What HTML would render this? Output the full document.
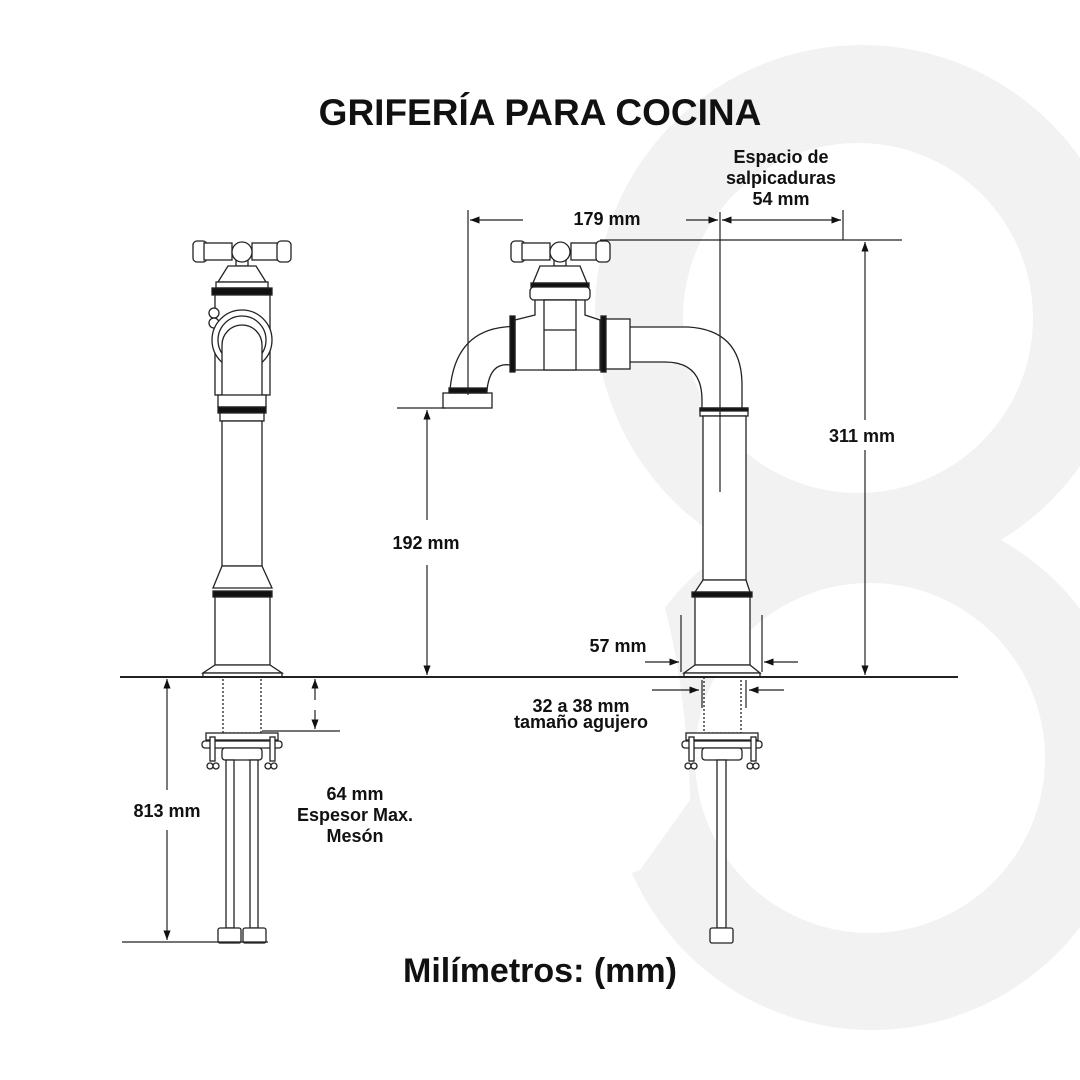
<!DOCTYPE html>
<html><head><meta charset="utf-8"><style>
html,body{margin:0;padding:0;background:#fff}
svg{display:block}
text{font-family:"Liberation Sans",sans-serif;font-weight:bold;fill:#111}
</style></head><body>
<svg width="1080" height="1080" viewBox="0 0 1080 1080" xmlns="http://www.w3.org/2000/svg">
<defs>
<marker id="a" markerWidth="8" markerHeight="6" refX="8" refY="3" orient="auto"><path d="M0,0 L8,3 L0,6z" fill="#111"/></marker>
</defs>
<g fill="#f2f2f2">
<circle cx="862" cy="312" r="267"/>
<circle cx="872" cy="768" r="262"/>
</g>
<circle cx="858" cy="318" r="175" fill="#fff"/>
<circle cx="870" cy="758" r="175" fill="#fff"/>
<path d="M560,560 L655,578 C680,640 690,760 690,800 L640,870 L560,900z" fill="#fff"/>

<text x="540" y="125" font-size="37" text-anchor="middle">GRIFERÍA PARA COCINA</text>

<g fill="#fff" stroke="#222" stroke-width="1.3">
<rect x="193" y="241" width="14" height="21" rx="4"/>
<rect x="204" y="243" width="28" height="17"/>
<rect x="252" y="243" width="28" height="17"/>
<rect x="277" y="241" width="14" height="21" rx="4"/>
<rect x="236" y="260" width="12" height="6"/>
<circle cx="242" cy="252" r="10"/>
<path d="M228,266 L256,266 L266,282 L218,282z"/>
<rect x="216" y="282" width="52" height="6"/>
<rect x="212" y="288" width="60" height="7" fill="#111"/>
<rect x="215" y="295" width="55" height="100"/>
<circle cx="214" cy="313" r="5"/><circle cx="214" cy="323" r="5"/>
<circle cx="242" cy="340" r="30"/>
<circle cx="242" cy="340" r="24"/>
<path d="M222,395 L222,345 A20,20 0 0 1 262,345 L262,395"/>
<rect x="218" y="395" width="48" height="12"/>
<rect x="218" y="407" width="48" height="6" fill="#111"/>
<rect x="220" y="413" width="44" height="8"/>
<rect x="222" y="421" width="40" height="145"/>
<path d="M222,566 L262,566 L272,588 L213,588z"/>
<rect x="213" y="591" width="59" height="6" fill="#111"/>
<rect x="215" y="597" width="55" height="68"/>
<path d="M215,665 L270,665 L282,673 L203,673z"/>
<rect x="203" y="673" width="79" height="4"/>
<rect x="223" y="677" width="38" height="56" stroke-dasharray="2,2" fill="none"/>
<rect x="206" y="733" width="72" height="7"/>
<rect x="202" y="741" width="80" height="7" rx="3"/>
<rect x="210" y="737" width="5" height="24"/><rect x="270" y="737" width="5" height="24"/>
<circle cx="210" cy="766" r="3"/><circle cx="216" cy="766" r="3"/>
<circle cx="268" cy="766" r="3"/><circle cx="274" cy="766" r="3"/>
<rect x="222" y="748" width="40" height="12" rx="3"/>
<rect x="226" y="760" width="8" height="168"/><rect x="250" y="760" width="8" height="168"/>
<rect x="218" y="928" width="23" height="15" rx="2"/>
<rect x="243" y="928" width="23" height="15" rx="2"/>

<rect x="511" y="241" width="14" height="21" rx="4"/>
<rect x="522" y="243" width="28" height="17"/>
<rect x="571" y="243" width="28" height="17"/>
<rect x="596" y="241" width="14" height="21" rx="4"/>
<rect x="554" y="260" width="12" height="6"/>
<circle cx="560" cy="252" r="10"/>
<path d="M540,266 L580,266 L587,283 L533,283z"/>
<rect x="531" y="283" width="58" height="4" fill="#111"/>
<rect x="530" y="287" width="60" height="13" rx="4"/>
<path d="M628,327 L688,327 Q742,330 742,385 L742,410 L702,410 L702,400 Q702,362 665,362 L628,362z"/>
<path d="M515,326 L505,327 Q455,332 450,390 L487,390 Q490,362 510,365z"/>
<rect x="443" y="393" width="49" height="15"/>
<rect x="449" y="388" width="38" height="5" fill="#111"/>
<path d="M535,300 L585,300 L585,315 L600,320 L600,370 L515,370 L515,320 L535,315z"/>
<rect x="544" y="300" width="32" height="70"/>
<line x1="544" y1="330" x2="576" y2="330"/>
<rect x="510" y="316" width="5" height="56" fill="#111"/>
<rect x="601" y="316" width="5" height="56" fill="#111"/>
<rect x="606" y="319" width="24" height="50"/>
<rect x="700" y="408" width="48" height="8"/>
<rect x="700" y="408" width="48" height="3" fill="#111"/>
<rect x="703" y="416" width="43" height="164"/>
<path d="M703,580 L746,580 L750,592 L695,592z"/>
<rect x="692" y="592" width="60" height="5" fill="#111"/>
<rect x="695" y="597" width="55" height="68"/>
<path d="M695,665 L750,665 L760,673 L684,673z"/>
<rect x="684" y="673" width="76" height="4"/>
<rect x="704" y="677" width="37" height="56" stroke-dasharray="2,2" fill="none"/>
<rect x="686" y="733" width="72" height="7"/>
<rect x="682" y="741" width="80" height="7" rx="3"/>
<rect x="689" y="737" width="5" height="24"/><rect x="751" y="737" width="5" height="24"/>
<circle cx="688" cy="766" r="3"/><circle cx="694" cy="766" r="3"/>
<circle cx="750" cy="766" r="3"/><circle cx="756" cy="766" r="3"/>
<rect x="702" y="748" width="40" height="12" rx="3"/>
<rect x="717" y="760" width="9" height="168"/>
<rect x="710" y="928" width="23" height="15" rx="2"/>
</g>

<g stroke="#222" stroke-width="1.2" fill="none">
<line x1="120" y1="677" x2="958" y2="677" stroke-width="2"/>
<line x1="468" y1="210" x2="468" y2="395"/>
<line x1="523" y1="220" x2="470" y2="220" marker-end="url(#a)"/>
<line x1="686" y1="220" x2="718" y2="220" marker-end="url(#a)"/>
<line x1="720" y1="212" x2="720" y2="492"/>
<line x1="730" y1="220" x2="722" y2="220" marker-end="url(#a)"/>
<line x1="722" y1="220" x2="841" y2="220" marker-end="url(#a)"/>
<line x1="843" y1="210" x2="843" y2="240"/>
<line x1="600" y1="240" x2="902" y2="240"/>
<line x1="865" y1="420" x2="865" y2="242" marker-end="url(#a)"/>
<line x1="865" y1="450" x2="865" y2="675" marker-end="url(#a)"/>
<line x1="397" y1="408" x2="445" y2="408"/>
<line x1="427" y1="520" x2="427" y2="410" marker-end="url(#a)"/>
<line x1="427" y1="565" x2="427" y2="675" marker-end="url(#a)"/>
<line x1="681" y1="615" x2="681" y2="672"/>
<line x1="762" y1="615" x2="762" y2="672"/>
<line x1="645" y1="662" x2="679" y2="662" marker-end="url(#a)"/>
<line x1="798" y1="662" x2="764" y2="662" marker-end="url(#a)"/>
<line x1="702" y1="680" x2="702" y2="708"/>
<line x1="746" y1="680" x2="746" y2="708"/>
<line x1="652" y1="690" x2="699" y2="690" marker-end="url(#a)"/>
<line x1="784" y1="690" x2="749" y2="690" marker-end="url(#a)"/>
<line x1="167" y1="790" x2="167" y2="679" marker-end="url(#a)"/>
<line x1="167" y1="830" x2="167" y2="940" marker-end="url(#a)"/>
<line x1="122" y1="942" x2="268" y2="942"/>
<line x1="315" y1="700" x2="315" y2="679" marker-end="url(#a)"/>
<line x1="315" y1="710" x2="315" y2="729" marker-end="url(#a)"/>
<line x1="262" y1="731" x2="340" y2="731"/>
</g>

<g font-size="18" text-anchor="middle">
<text x="607" y="225">179 mm</text>
<text x="781" y="163">Espacio de</text>
<text x="781" y="184">salpicaduras</text>
<text x="781" y="205">54 mm</text>
<text x="862" y="442">311 mm</text>
<text x="426" y="549">192 mm</text>
<text x="618" y="652">57 mm</text>
<text x="581" y="712">32 a 38 mm</text>
<text x="581" y="728">tamaño agujero</text>
<text x="167" y="817">813 mm</text>
<text x="355" y="800">64 mm</text>
<text x="355" y="821">Espesor Max.</text>
<text x="355" y="842">Mesón</text>
</g>
<text x="540" y="982" font-size="34" text-anchor="middle">Milímetros: (mm)</text>
</svg>
</body></html>
